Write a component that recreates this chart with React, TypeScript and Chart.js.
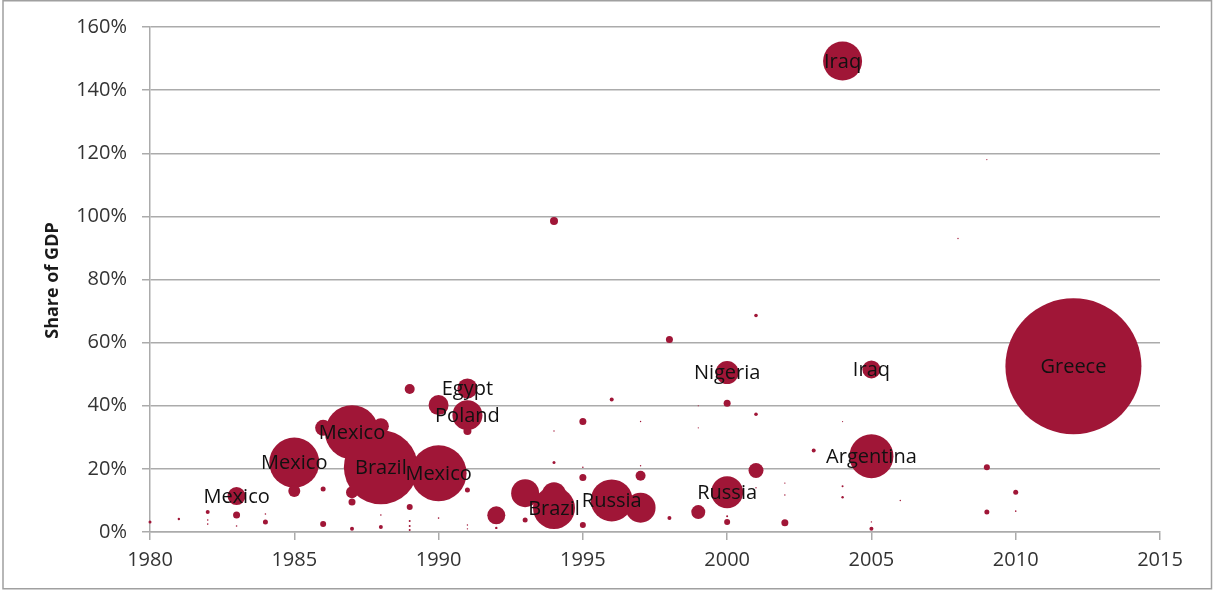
import React, { useEffect, useRef } from "react";
import { Chart, registerables } from "chart.js";

Chart.register(...registerables);

// Year of each episode, share of GDP (%), bubble size, label
const years = [
  1980, 1981,
  1982, 1982, 1982,
  1983, 1983, 1983,
  1984, 1984,
  1985, 1985,
  1986, 1986, 1986,
  1987, 1987, 1987, 1987,
  1988, 1988, 1988, 1988,
  1989, 1989, 1989, 1989, 1989,
  1990, 1990, 1990,
  1991, 1991, 1991, 1991, 1991, 1991,
  1992, 1992,
  1993, 1993,
  1994, 1994, 1994, 1994, 1994,
  1995, 1995, 1995, 1995,
  1996, 1996,
  1997, 1997, 1997, 1997,
  1998, 1998,
  1999, 1999, 1999,
  2000, 2000, 2000, 2000, 2000,
  2001, 2001, 2001, 2001,
  2002, 2002, 2002,
  2003,
  2004, 2004, 2004, 2004,
  2005, 2005, 2005, 2005,
  2006,
  2008,
  2009, 2009, 2009,
  2010, 2010,
  2012,
];

const shares = [
  3.2, 4.1,
  6.3, 3.8, 2.5,
  11.4, 5.4, 1.9,
  3.2, 5.7,
  22, 13,
  33, 13.6, 2.5,
  31.6, 12.6, 9.5, 1,
  20.5, 33.5, 1.6, 5.4,
  45.3, 7.9, 3.5, 1.9, 0.6,
  18.6, 40.2, 4.4,
  45.5, 37, 32, 13.3, 2.2, 1,
  5.3, 1.3,
  12.3, 3.8,
  98.5, 12, 7.6, 22, 32,
  35, 17.3, 2.2, 20.5,
  10, 42,
  7.7, 17.8, 35, 21,
  61, 4.4,
  6.3, 40, 33,
  12.6, 50.5, 40.8, 3.2, 5,
  19.5, 37.3, 68.6, 14,
  2.9, 15.5, 11.7,
  25.8,
  149.2, 14.5, 11, 35,
  24, 51.5, 1, 3.2,
  10,
  93,
  118, 20.5, 6.3,
  12.6, 6.6,
  52.5,
];

const sizes = [
  1.5, 1.2,
  2, 0.8, 0.8,
  9, 3.5, 0.8,
  2.5, 0.8,
  25, 6,
  8, 2.5, 3,
  27, 6, 3.5, 2,
  37, 8, 2, 0.8,
  5, 3, 1, 1, 1,
  28, 10, 0.8,
  10, 15, 4, 2.5, 0.7, 0.7,
  9, 1.2,
  14, 2.5,
  4, 12, 21, 1.5, 0.7,
  3.5, 3.5, 3, 0.8,
  21, 2,
  15, 5, 0.7, 0.7,
  3.5, 2,
  7, 0.6, 0.6,
  16, 11.5, 3.5, 3, 1,
  7.5, 1.8, 1.8, 0.7,
  3.5, 0.7, 0.7,
  2,
  19.5, 1, 1.2, 0.6,
  22, 9, 2, 0.7,
  0.7,
  0.7,
  0.6, 3, 2.5,
  2.5, 0.8,
  68,
];

const labels = [
  "", "",
  "", "", "",
  "Mexico", "", "",
  "", "",
  "Mexico", "",
  "", "", "",
  "Mexico", "", "", "",
  "Brazil", "", "", "",
  "", "", "", "", "",
  "Mexico", "", "",
  "Egypt", "Poland", "", "", "", "",
  "", "",
  "", "",
  "", "", "Brazil", "", "",
  "", "", "", "",
  "Russia", "",
  "", "", "", "",
  "", "",
  "", "", "",
  "Russia", "Nigeria", "", "", "",
  "", "", "", "",
  "", "", "",
  "",
  "Iraq", "", "", "",
  "Argentina", "Iraq", "", "",
  "",
  "",
  "", "", "",
  "", "",
  "Greece",
];

const xTickValues = [1980, 1985, 1990, 1995, 2000, 2005, 2010, 2015];
const yTickValues = [0, 20, 40, 60, 80, 100, 120, 140, 160];
const yAxisTitle = "Share of GDP";

const FONT = "'Open Sans', 'DejaVu Sans', sans-serif";
const BUBBLE = "#A01637";
const GRID = "#ababab";

export default function App() {
  const ref = useRef<HTMLCanvasElement | null>(null);

  useEffect(() => {
    const canvas = ref.current;
    if (!canvas) return;

    const framePlugin = {
      id: "frame",
      beforeDraw(chart: any) {
        const ctx = chart.ctx;
        ctx.save();
        ctx.fillStyle = "#ffffff";
        ctx.fillRect(0, 0, chart.width, chart.height);
        ctx.strokeStyle = "#a0a0a0";
        ctx.lineWidth = 1.5;
        ctx.strokeRect(3, 0.75, chart.width - 4.5, chart.height - 3);
        ctx.restore();
      },
    };

    const labelPlugin = {
      id: "bubbleLabels",
      afterDatasetsDraw(chart: any) {
        const ctx = chart.ctx;
        const meta = chart.getDatasetMeta(0);
        ctx.save();
        ctx.font = `20px ${FONT}`;
        ctx.fillStyle = "#111111";
        ctx.textAlign = "center";
        ctx.textBaseline = "middle";
        meta.data.forEach((el: any, i: number) => {
          const t = labels[i];
          if (t) ctx.fillText(t, el.x, el.y + 1);
        });
        // y axis title
        const area = chart.chartArea;
        ctx.translate(53, (area.top + area.bottom) / 2 + 1);
        ctx.rotate(-Math.PI / 2);
        ctx.font = `bold 18px ${FONT}`;
        ctx.fillStyle = "#1a1a1a";
        ctx.fillText(yAxisTitle, 0, 0);
        ctx.restore();
      },
    };

    const chart = new Chart(canvas, {
      type: "bubble",
      data: {
        datasets: [
          {
            data: years.map((x, i) => ({ x, y: shares[i], r: sizes[i] })),
            backgroundColor: BUBBLE,
            borderWidth: 0,
            hoverBorderWidth: 0,
            hoverRadius: 0,
            clip: false as any,
          },
        ],
      },
      options: {
        animation: false,
        responsive: false,
        events: [],
        layout: { autoPadding: false, padding: { left: 0, right: 53, top: 26, bottom: 0 } },
        plugins: {
          legend: { display: false },
          tooltip: { enabled: false },
          title: { display: false },
        },
        scales: {
          x: {
            type: "linear",
            min: 1980,
            max: 2015,
            afterBuildTicks: (scale: any) => {
              scale.ticks = xTickValues.map((v) => ({ value: v }));
            },
            afterFit: (scale: any) => {
              scale.height = 59;
            },
            ticks: {
              callback: (v: any) => String(v),
              color: "#333333",
              font: { family: FONT, size: 20 },
              padding: 8,
              maxRotation: 0,
            },
            grid: {
              drawOnChartArea: false,
              drawTicks: true,
              tickLength: 8,
              color: GRID,
              lineWidth: 1.5,
            },
            border: { display: true, color: GRID, width: 1.5 },
          },
          y: {
            type: "linear",
            min: 0,
            max: 160,
            afterBuildTicks: (scale: any) => {
              scale.ticks = yTickValues.map((v) => ({ value: v }));
            },
            afterFit: (scale: any) => {
              scale.width = 150;
            },
            ticks: {
              callback: (v: any) => `${v}%`,
              color: "#333333",
              font: { family: FONT, size: 20 },
              padding: 15,
            },
            grid: {
              drawOnChartArea: true,
              drawTicks: true,
              tickLength: 8,
              color: GRID,
              lineWidth: 1.5,
            },
            border: { display: true, color: GRID, width: 1.5 },
          },
        },
      },
      plugins: [framePlugin, labelPlugin],
    });

    return () => chart.destroy();
  }, []);

  return (
    <div style={{ position: "absolute", left: 0, top: 0, width: 1213, height: 591 }}>
      <canvas ref={ref} width={1213} height={591} style={{ display: "block" }} />
    </div>
  );
}
